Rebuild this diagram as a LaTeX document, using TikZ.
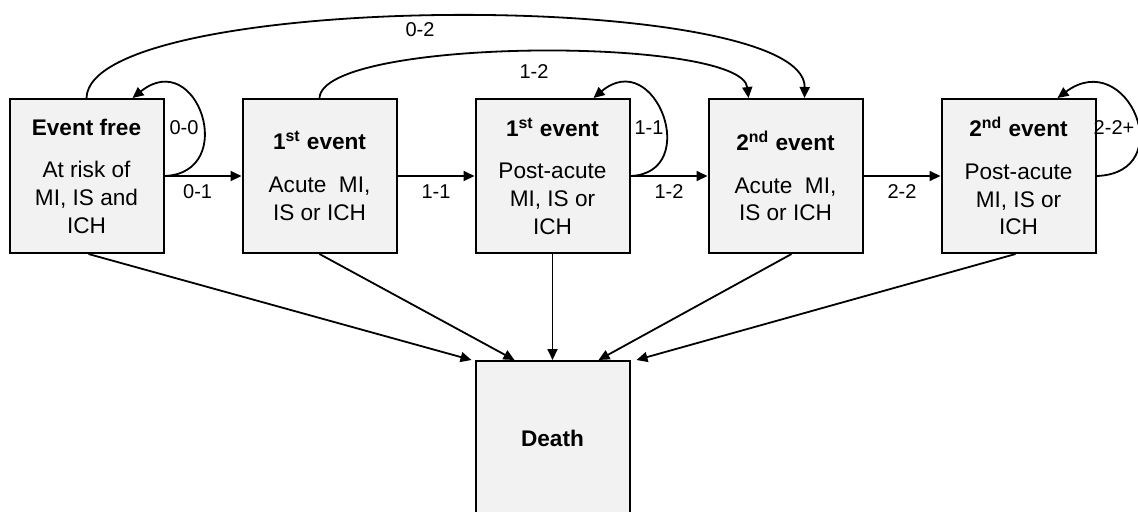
\documentclass[tikz,border=0pt]{standalone}
\usepackage{fontspec}
\setmainfont{Liberation Sans}
\usetikzlibrary{positioning, arrows.meta}
\definecolor{boxgrey}{RGB}{242, 242, 242}

\begin{document}
\begin{tikzpicture}[x=0.5pt, y=-0.5pt,
      st/.style={draw, line width=1pt, fill=boxgrey, minimum width=77pt, minimum height=77pt, inner sep=0pt, align=center, font=\fontsize{11.3}{13.8}\selectfont},
      lab/.style={font=\fontsize{10}{12}\selectfont, inner sep=1pt},
      arr/.style={-{Triangle[length=5.5pt, width=5pt]}, line width=0.9pt}]
    \useasboundingbox (0,0) rectangle (1138,511);
    \clip (0,0) rectangle (1138,511);
    % states
    \node[st] (free) at (86.5,176) {\textbf{Event free}\\[7.6pt]At risk of\\MI, IS and\\ICH};
    \node[st, right=38.5pt of free] (acute1) {\textbf{1\textsuperscript{st} event}\\[7.6pt]Acute\ \ MI,\\IS or ICH};
    \node[st, right=38.5pt of acute1] (post1) {\textbf{1\textsuperscript{st} event}\\[7.6pt]Post-acute\\MI, IS or\\ICH};
    \node[st, right=38.5pt of post1] (acute2) {\textbf{2\textsuperscript{nd} event}\\[7.6pt]Acute\ \ MI,\\IS or ICH};
    \node[st, right=38.5pt of acute2] (post2) {\textbf{2\textsuperscript{nd} event}\\[7.6pt]Post-acute\\MI, IS or\\ICH};
    \node[st, below=53pt of post1] (death) {\textbf{Death}};
    % transitions
    \draw[arr] (free) -- node[lab, below=3pt, pos=0.43] {0-1} (acute1);
    \draw[arr] (acute1) -- node[lab, below=3pt] {1-1} (post1);
    \draw[arr] (post1) -- node[lab, below=3pt] {1-2} (acute2);
    \draw[arr] (acute2) -- node[lab, below=3pt] {2-2} (post2);
    \draw[arr] (free.north) .. controls +(3,-108) and +(2,-110) .. ([xshift=9.5pt]acute2.north);
    \draw[arr] (acute1.north) .. controls +(3,-61) and +(-7,-62) .. ([xshift=-18.5pt]acute2.north);
    \node[lab] (l02) at (420,30) {0-2};
    \node[lab] (l12) at (534,72) {1-2};
    % loops
    \draw[arr] (free.east) .. controls +(75,-3) and +(65,-52) .. ([xshift=23pt]free.north);
    \draw[arr] (post1.east) .. controls +(72,-3) and +(62,-52) .. ([xshift=20.5pt]post1.north);
    \draw[arr] (post2.east) .. controls +(84,-3) and +(70,-52) .. ([xshift=19.5pt]post2.north);
    \node[lab] (l00) at (184,128) {0-0};
    \node[lab] (l11) at (649,128) {1-1};
    \node[lab] (l22) at (1114,128) {2-2+};
    % to death
    \draw[arr] ([xshift=1pt]free.south) -- ([xshift=-1.5pt]death.north west);
    \draw[arr] (acute1.south) -- ([xshift=-19pt]death.north);
    \draw[arr] (post1.south) -- (death.north);
    \draw[arr] ([xshift=3pt]acute2.south) -- ([xshift=23pt]death.north);
    \draw[arr] ([xshift=-1.5pt]post2.south) -- ([xshift=3pt]death.north east);
  \end{tikzpicture}
\end{document}
